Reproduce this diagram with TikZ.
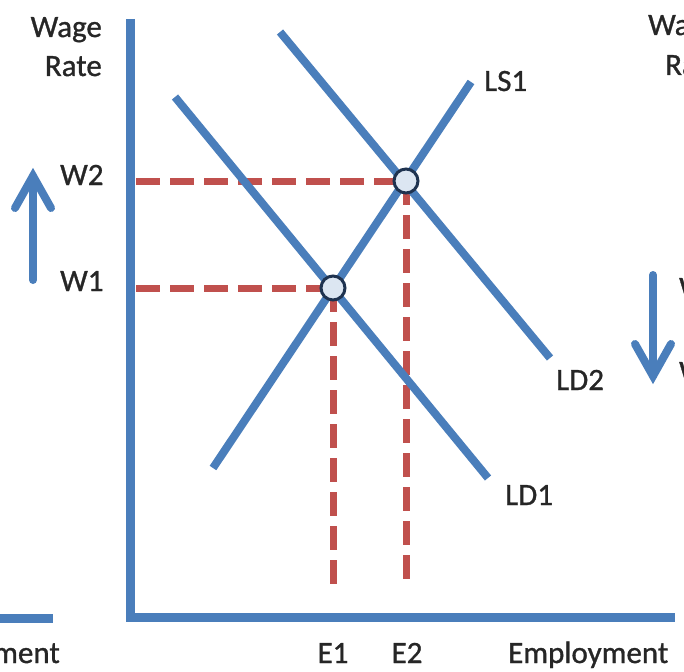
\documentclass[tikz,border=0pt]{standalone}
\usepackage{fontspec}
\setmainfont[FakeBold=1]{Carlito}
\definecolor{lineblue}{HTML}{4A7EBB}
\definecolor{dashred}{HTML}{C0504D}
\definecolor{ptfill}{HTML}{DCE6F2}
\definecolor{ptedge}{HTML}{1F3350}
\definecolor{txt}{HTML}{262626}
\tikzset{
  curve/.style={draw=lineblue, line width=8pt},
  axisline/.style={draw=lineblue, line width=9pt},
  guide/.style={draw=dashred, line width=7pt, dash pattern=on 24pt off 10pt},
  shiftarrow/.style={draw=lineblue, line width=8pt, line cap=round, line join=miter},
  eqpoint/.style={circle, draw=ptedge, fill=ptfill, line width=3pt, minimum size=24pt, inner sep=0pt},
  lbl/.style={text=txt, font=\fontsize{31}{37}\selectfont, inner sep=0pt},
}
\begin{document}
\begin{tikzpicture}[x=1pt, y=-1pt]
\useasboundingbox (0,0) rectangle (684,671);
\clip (0,0) rectangle (684,671);

% coordinates
\coordinate (ytop) at (130,19);
\coordinate (origin) at (130,617);
\coordinate (xend) at (675,617);
\coordinate (ld1a) at (175,97);
\coordinate (ld1b) at (488,478);
\coordinate (ld2a) at (280,32);
\coordinate (ld2b) at (550,358);
\coordinate (ls1a) at (471,82);
\coordinate (ls1b) at (213,468);
\coordinate (w2start) at (136,181);
\coordinate (w1start) at (136,288);
\coordinate (e1end) at (333,588);
\coordinate (e2end) at (406,588);

% guide lines
\draw[guide] (w2start) -- (406,181) coordinate (p2);
\draw[guide] (w1start) -- (333,288) coordinate (p1);
\draw[guide] (p2) -- (e2end);
\draw[guide] (p1) -- (e1end);

% axes
\draw[axisline] (ytop) -- (origin) -- (xend);

% curves
\draw[curve] (ld1a) -- (ld1b);
\draw[curve] (ld2a) -- (ld2b);
\draw[curve] (ls1b) -- (ls1a);

% equilibrium points
\node[eqpoint] (eq2) at (p2) {};
\node[eqpoint] (eq1) at (p1) {};

% labels
\node[lbl, anchor=base east] (wage) at (102,37) {Wage};
\node[lbl, anchor=base east] (rate) at (102,76) {Rate};
\node[lbl, anchor=base west] (w2) at (60,185) {W2};
\node[lbl, anchor=base west] (w1) at (60,291) {W1};
\node[lbl, anchor=base west] (ls1) at (484,91) {LS1};
\node[lbl, anchor=base west] (ld2) at (556,390) {LD2};
\node[lbl, anchor=base west] (ld1) at (505,505) {LD1};
\node[lbl, anchor=base] (e1) at (333,663) {E1};
\node[lbl, anchor=base] (e2) at (407,663) {E2};
\node[lbl, anchor=base west] (emp) at (508,663) {Employment};

% up arrow (left)
\coordinate (upbot) at (33,280);
\coordinate (uptip) at (33,176);
\draw[shiftarrow] (upbot) -- (uptip);
\draw[shiftarrow] (15,208) -- (uptip) -- (51,208);

% neighbouring panels (cut off)
\draw[axisline] (0,618) -- (53,618);
\node[lbl, anchor=base east] (empleft) at (60,663) {Employment};
\node[lbl, anchor=base west] (wageR) at (648,35) {Wage};
\node[lbl, anchor=base west] (rateR) at (665,75) {Rate};
\node[lbl, anchor=base west] (wR1) at (679,298) {W2};
\node[lbl, anchor=base west] (wR2) at (679,382) {W1};
\coordinate (dntop) at (653,275);
\coordinate (dntip) at (653,376);
\draw[shiftarrow] (dntop) -- (dntip);
\draw[shiftarrow] (635,344) -- (dntip) -- (671,344);
\end{tikzpicture}
\end{document}
